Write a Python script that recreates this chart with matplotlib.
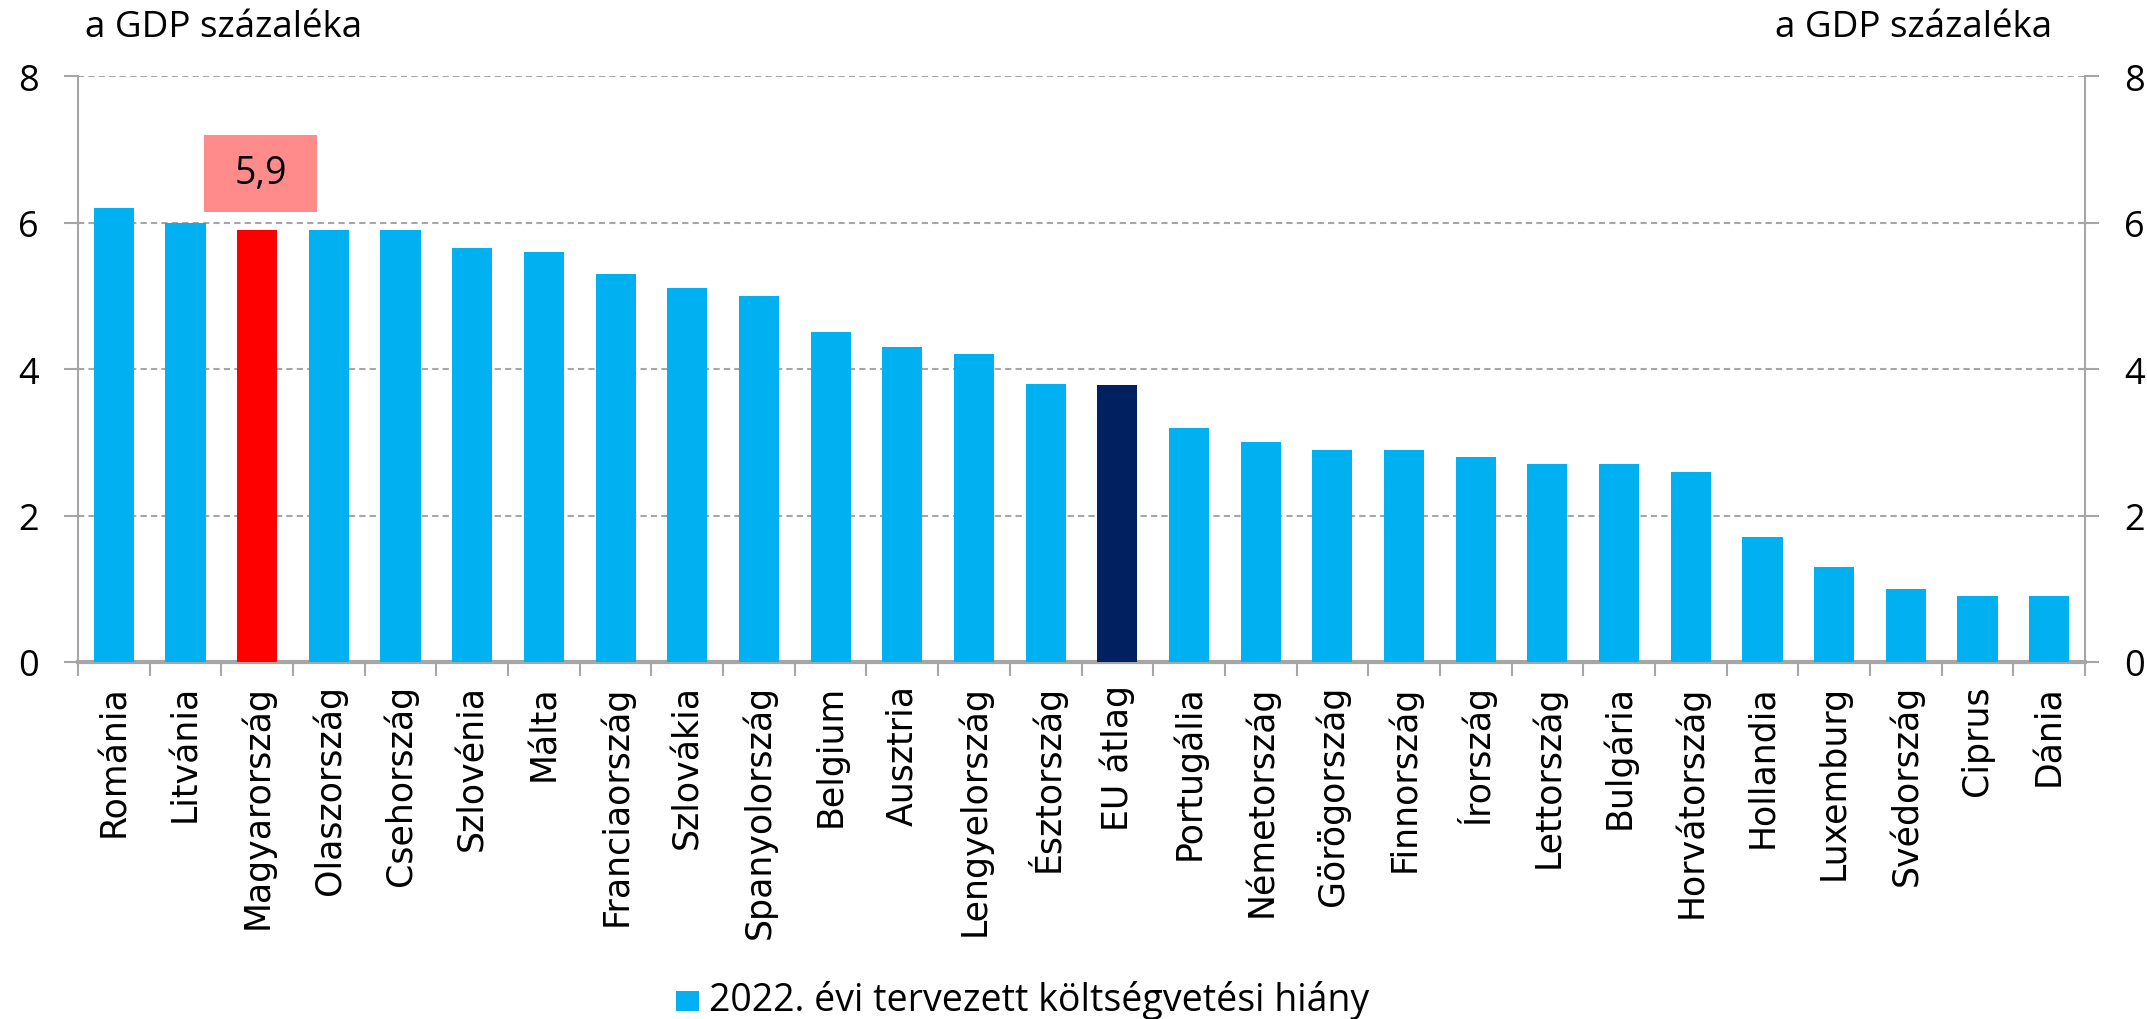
import matplotlib
matplotlib.use("Agg")
import matplotlib.pyplot as plt
from matplotlib.patches import Rectangle
import numpy as np

categories = ["Románia", "Litvánia", "Magyarország", "Olaszország", "Csehország",
              "Szlovénia", "Málta", "Franciaország", "Szlovákia", "Spanyolország",
              "Belgium", "Ausztria", "Lengyelország", "Észtország", "EU átlag",
              "Portugália", "Németország", "Görögország", "Finnország", "Írország",
              "Lettország", "Bulgária", "Horvátország", "Hollandia", "Luxemburg",
              "Svédország", "Ciprus", "Dánia"]
values = [6.2, 6.0, 5.9, 5.9, 5.9, 5.65, 5.6, 5.3, 5.1, 5.0, 4.5, 4.3, 4.2, 3.8, 3.78,
          3.2, 3.0, 2.9, 2.9, 2.8, 2.7, 2.7, 2.6, 1.7, 1.3, 1.0, 0.9, 0.9]
highlight = "Magyarország"
eu_label = "EU átlag"
series_label = "2022. évi tervezett költségvetési hiány"
axis_label = "a GDP százaléka"
yticks = [0, 2, 4, 6, 8]

BLUE = "#00B0F0"
RED = "#FF0000"
NAVY = "#002060"
GRID = "#A6A6A6"
TXT_FONT = ["Open Sans", "DejaVu Sans"]

W, H = 2147, 1020
fig = plt.figure(figsize=(W / 100, H / 100), dpi=100)
ax = fig.add_axes([78 / W, 1 - 663 / H, (2085 - 78) / W, (663 - 77) / H])

x = np.arange(len(categories))
colors = [RED if c == highlight else NAVY if c == eu_label else BLUE for c in categories]
ax.bar(x, values, width=0.56, color=colors, zorder=3)

ax.set_xlim(-0.5, len(categories) - 0.5)
ax.set_ylim(0, 8)
ax.set_yticks(yticks)
ax.set_yticklabels([str(t) for t in yticks], fontfamily=TXT_FONT, fontsize=26)
for t in yticks[1:]:
    ax.axhline(t, color=GRID, lw=1.5, ls=(0, (3, 2)), zorder=1)

ax.set_xticks(x)
ax.set_xticklabels(categories, rotation=90, fontfamily="DejaVu Sans", fontsize=25)
ax.set_xticks(np.arange(-0.5, len(categories)), minor=True)
ax.tick_params(axis="x", which="major", length=0, pad=16)
ax.tick_params(axis="x", which="minor", length=10, width=1.5, color=GRID, direction="out")
ax.tick_params(axis="y", length=10, width=1.5, color=GRID, direction="out", pad=18)

for s in ["top", "right"]:
    ax.spines[s].set_visible(False)
ax.spines["left"].set_color(GRID)
ax.spines["left"].set_linewidth(1.5)
ax.spines["bottom"].set_color(GRID)
ax.spines["bottom"].set_linewidth(3)

ax2 = ax.twinx()
ax2.set_ylim(0, 8)
ax2.set_yticks(yticks)
ax2.set_yticklabels([str(t) for t in yticks], fontfamily=TXT_FONT, fontsize=26)
ax2.tick_params(axis="y", length=10, width=1.5, color=GRID, direction="out", pad=18)
for s in ["top", "left", "bottom"]:
    ax2.spines[s].set_visible(False)
ax2.spines["right"].set_color(GRID)
ax2.spines["right"].set_linewidth(1.5)

# annotation box for highlighted bar
hi = categories.index(highlight)
ax.add_patch(Rectangle((hi - 0.74, 6.15), 1.58, 1.05, facecolor="#FF8B8B",
                       edgecolor="none", zorder=4))
ax.text(hi + 0.05, 6.68, f"{values[hi]:.1f}".replace(".", ","), ha="center", va="center",
        fontsize=27, fontfamily=TXT_FONT, zorder=5)

fig.text(85 / W, 1 - 28 / H, axis_label, ha="left", va="center", fontsize=26.5, fontfamily=TXT_FONT)
fig.text(2052 / W, 1 - 28 / H, axis_label, ha="right", va="center", fontsize=26.5, fontfamily=TXT_FONT)

# legend
fig.patches.append(Rectangle((676 / W, 1 - 1012 / H), 23 / W, 20 / H, facecolor=BLUE,
                             edgecolor="none", transform=fig.transFigure, figure=fig))
fig.text(709 / W, 1 - 1001 / H, series_label, ha="left", va="center", fontsize=27,
         fontfamily=TXT_FONT)

fig.savefig("out.png", dpi=100)
